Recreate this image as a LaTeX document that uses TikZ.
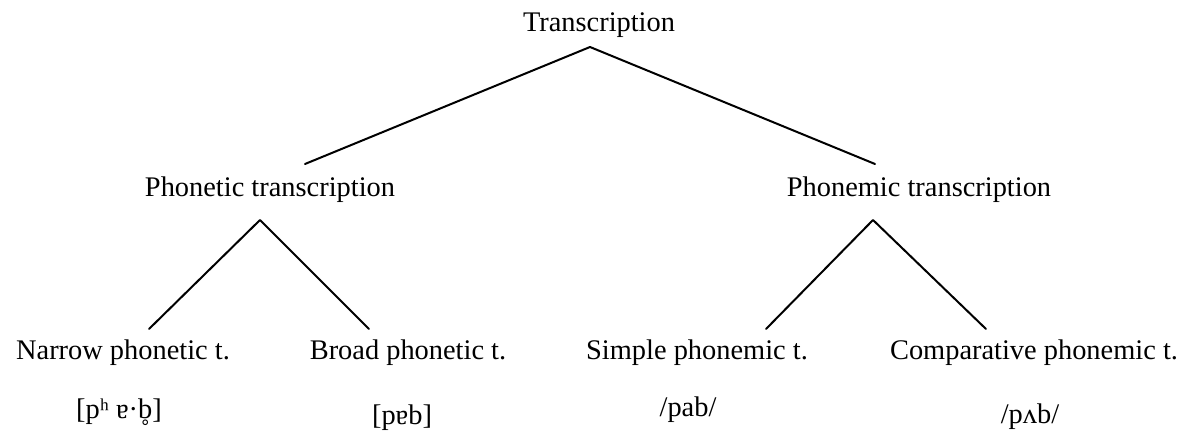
\documentclass[tikz,border=0pt]{standalone}
\usepackage{fontspec}
\setmainfont{Liberation Serif}
% voiceless ring set under a letter
\newcommand{\ringunder}[1]{\ooalign{#1\cr\hidewidth\smash{\raisebox{-0.8em}{\char"02DA}}\hidewidth\cr}}
\begin{document}
\begin{tikzpicture}
% tree of transcription types, laid out on a pixel grid
\def\pxsz{0.5pt}
\providecommand{\treeLineWidth}{1pt}
\begin{scope}[x=\pxsz, y=-\pxsz, line cap=round, line join=round,
  every node/.style={font=\fontsize{14.2}{17}\selectfont, inner sep=0pt},
  example/.style={anchor=base},
  branch/.style={draw=black, line width=\treeLineWidth}]
  % Frame
  \useasboundingbox (0,0) rectangle (1187,432);
  % Labels
  \node (tr) at (599,25) {Transcription};
  \node (phon) at (270,190) {Phonetic transcription};
  \node (phm) at (919,190) {Phonemic transcription};
  \node (narrow) at (123,353) {Narrow phonetic t.};
  \node (broad) at (408,353) {Broad phonetic t.};
  \node (simple) at (697,353) {Simple phonemic t.};
  \node (comp) at (1034,353) {Comparative phonemic t.};
  % Examples, set on their baselines
  \node[example] (exnarrow) at (119,418) {[pʰ ɐ·\ringunder{b}]};
  \node[example] (exbroad) at (402,424) {[pɐb]};
  \node[example] (exsimple) at (688,416) {/pab/};
  \node[example] (excomp) at (1030,423) {/pʌb/};
  % Branch ends
  \coordinate (trtop) at (590,47);
  \coordinate (trl) at (305,164);
  \coordinate (trr) at (875,164);
  \coordinate (phontop) at (260,220);
  \coordinate (phonl) at (149,329);
  \coordinate (phonr) at (369,329);
  \coordinate (phmtop) at (873,220);
  \coordinate (phml) at (766,329);
  \coordinate (phmr) at (986,329);
  % Branches
  \draw[branch] (trl) -- (trtop) -- (trr);
  \draw[branch] (phonl) -- (phontop) -- (phonr);
  \draw[branch] (phml) -- (phmtop) -- (phmr);
\end{scope}
\end{tikzpicture}
\end{document}
